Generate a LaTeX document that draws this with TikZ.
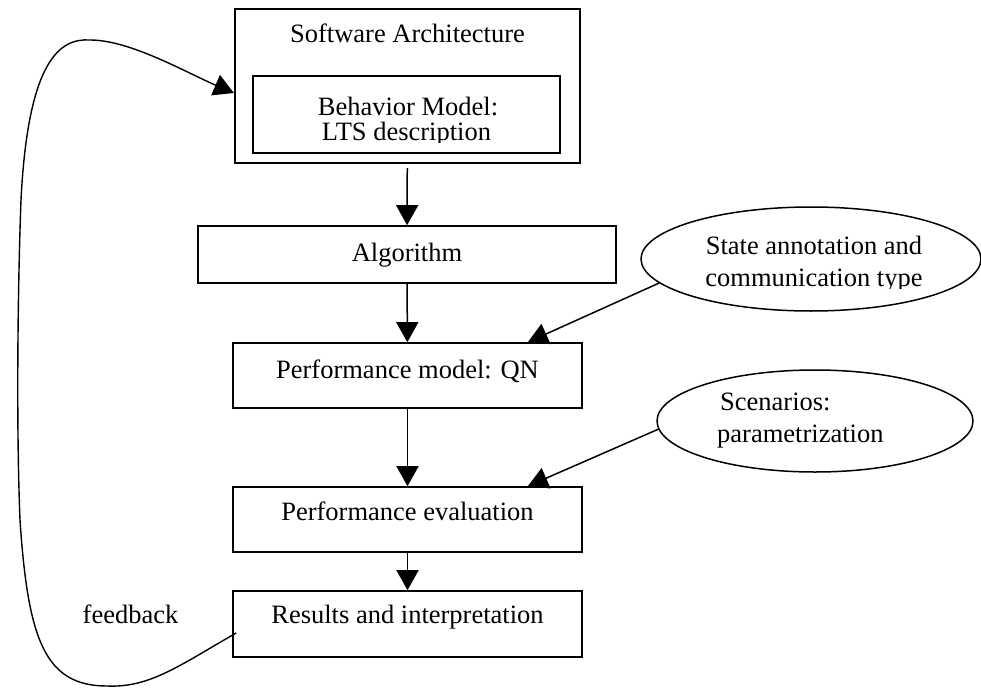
\documentclass[tikz,border=0pt]{standalone}
\usepackage{fontspec}
\setmainfont{Liberation Serif}
\usetikzlibrary{arrows.meta,calc,shapes.geometric}

\begin{document}
\begin{tikzpicture}[x=1pt,y=-1pt,
  every node/.style={font=\fontsize{26.5}{32}\selectfont},
  box/.style={draw, rectangle, line width=1.6pt, inner sep=0pt, text height=18pt},
  heavybox/.style={draw, rectangle, line width=2.2pt, inner sep=0pt},
  oval/.style={draw, ellipse, line width=1.5pt, inner sep=0pt},
  txt/.style={draw=none, inner sep=0pt},
  flow/.style={line width=1.5pt, -{Triangle[length=20pt,width=22pt]}},
  fb/.style={line width=1.4pt, -{Triangle[length=20pt,width=22pt]}}]

\useasboundingbox (0,0) rectangle (981,687);

% software architecture container with the behaviour model inside
\node[heavybox, minimum width=345pt, minimum height=154pt] (sa) at (407.5,86) {};
\node[txt, anchor=base] (satitle) at (407.5,43) {Software Architecture};
\node[heavybox, minimum width=307pt, minimum height=77pt] (beh) at (406.5,114.5) {};
\begin{scope}
  \clip (253,76) rectangle (560,143);
  \node[txt, anchor=base] (beh1) at (408,116) {Behavior Model:};
  \node[txt, anchor=base] (beh2) at (406.5,141) {LTS description};
\end{scope}

% main chain of steps
\node[box, minimum width=418pt, minimum height=57pt, text depth=5pt]  (alg) at (407,254.5) {Algorithm};
\node[box, minimum width=349pt, minimum height=65pt, text depth=13pt] (pm)  at (407.5,375.5) {Performance model: QN};
\node[box, minimum width=349pt, minimum height=65pt, text depth=17pt] (pe)  at (407.5,519.5) {Performance evaluation};
\node[box, minimum width=349pt, minimum height=66pt, text depth=20pt] (res) at (407.5,624) {Results and interpretation};

% side inputs
\node[oval, minimum width=340pt, minimum height=104pt] (ann) at (811,259) {};
\begin{scope}
  \clip (640,200) rectangle (981,288);
  \node[txt, anchor=base] (ann1) at (814,254) {State annotation and};
  \node[txt, anchor=base] (ann2) at (814,286) {communication type};
\end{scope}
\node[oval, minimum width=316pt, minimum height=102pt] (scen) at (815,421) {};
\node[txt, anchor=base west] (scen1) at (720,410) {Scenarios:};
\node[txt, anchor=base west] (scen2) at (717,442) {parametrization};

% connectors
\draw[flow, shorten <=4pt] (sa) -- (alg);
\draw[flow] (alg) -- (pm);
\draw[flow] (pm) -- (pe);
\draw[flow] (pe) -- (res);
\draw[flow] (ann.189) -- ($(pm.north east)+(-55,0)$);
\draw[flow] (scen.183) -- ($(pe.north east)+(-55,0)$);

% feedback loop back to the architecture
\draw[fb] ($(res.west)+(4,9)$)
  .. controls (180,665) and (150,688) .. (107,686)
  .. controls (45,686) and (28,640) .. (20,520)
  .. controls (16,420) and (18,280) .. (21,200)
  .. controls (28,60) and (60,38) .. (90,40)
  .. controls (130,40) and (185,72) .. ($(sa.west)+(0,7)$);
\node[txt, anchor=base] (fblabel) at (130.5,623) {feedback};

\end{tikzpicture}
\end{document}
